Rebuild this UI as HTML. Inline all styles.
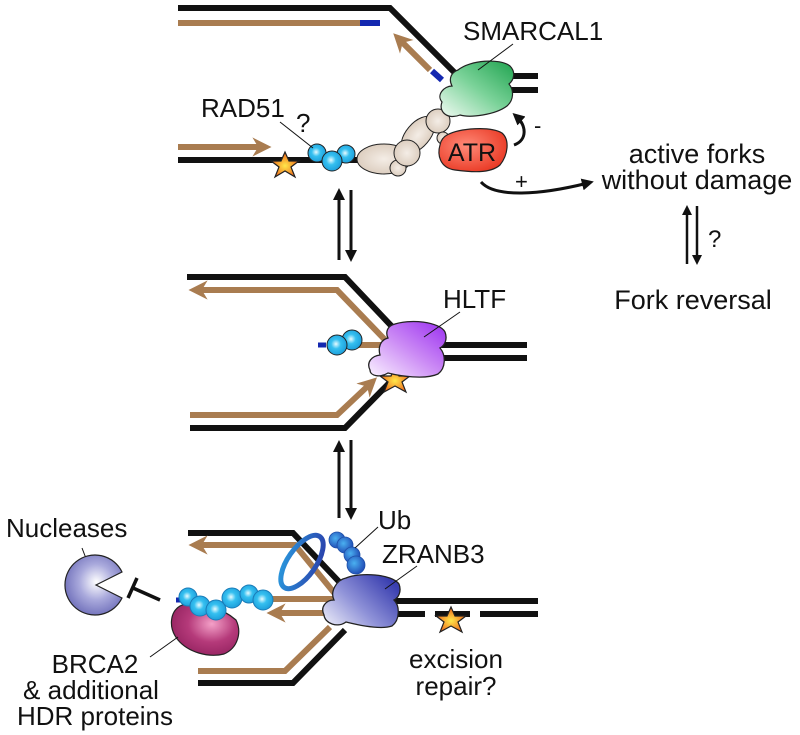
<!DOCTYPE html>
<html><head><style>html,body{margin:0;padding:0;background:#fff}svg{display:block}text{font-family:"Liberation Sans",Arial,sans-serif;fill:#111}</style></head>
<body>
<svg width="800" height="735" viewBox="0 0 800 735" xmlns="http://www.w3.org/2000/svg">
<defs>
<radialGradient id="sph" cx="0.45" cy="0.45" r="0.6"><stop offset="0" stop-color="#e8fbff"/><stop offset="0.4" stop-color="#35c0f0"/><stop offset="1" stop-color="#1a9ad8"/></radialGradient>
<radialGradient id="beige" cx="0.5" cy="0.5" r="0.6"><stop offset="0" stop-color="#f4ede6"/><stop offset="1" stop-color="#d8c8b8"/></radialGradient>
<linearGradient id="grn" x1="0" y1="1" x2="1" y2="0"><stop offset="0" stop-color="#f2fbf4"/><stop offset="0.5" stop-color="#7cd39a"/><stop offset="1" stop-color="#1fa34f"/></linearGradient>
<linearGradient id="pur" x1="0" y1="1" x2="1" y2="0"><stop offset="0" stop-color="#fbf4ff"/><stop offset="0.5" stop-color="#cc8cf5"/><stop offset="1" stop-color="#9a2ef0"/></linearGradient>
<linearGradient id="blu" x1="0" y1="1" x2="1" y2="0.3"><stop offset="0" stop-color="#f4f4fb"/><stop offset="0.5" stop-color="#8f92d8"/><stop offset="1" stop-color="#3a3fb0"/></linearGradient>
<radialGradient id="red" cx="0.4" cy="0.4" r="0.7"><stop offset="0" stop-color="#ff8a78"/><stop offset="1" stop-color="#e8341f"/></radialGradient>
<radialGradient id="mag" cx="0.6" cy="0.4" r="0.7"><stop offset="0" stop-color="#f4a0c8"/><stop offset="0.5" stop-color="#b53a7a"/><stop offset="1" stop-color="#8f1f5c"/></radialGradient>
<radialGradient id="nuc" cx="0.55" cy="0.45" r="0.6"><stop offset="0" stop-color="#ffffff"/><stop offset="0.5" stop-color="#a9a9dc"/><stop offset="1" stop-color="#6c6cb8"/></radialGradient>
<radialGradient id="star" cx="0.5" cy="0.55" r="0.5"><stop offset="0" stop-color="#ffe84a"/><stop offset="1" stop-color="#f06a1a"/></radialGradient>
<linearGradient id="ring" x1="0" y1="1" x2="1" y2="0"><stop offset="0" stop-color="#2a9ee0"/><stop offset="1" stop-color="#2a3aa8"/></linearGradient>
<radialGradient id="ub" cx="0.4" cy="0.4" r="0.6"><stop offset="0" stop-color="#4ab0f0"/><stop offset="1" stop-color="#2250b8"/></radialGradient>
<marker id="bh" viewBox="0 0 10 10" refX="5" refY="5" markerWidth="3.2" markerHeight="3.2" orient="auto"><path d="M0,0 L10,5 L0,10 L3,5z" fill="#a97c50"/></marker>
<marker id="kh" viewBox="0 0 10 10" refX="5" refY="5" markerWidth="4" markerHeight="4" orient="auto"><path d="M0,0 L10,5 L0,10 z" fill="#111"/></marker>
</defs>

<!-- ===== TOP PANEL ===== -->
<g fill="none" stroke="#111" stroke-width="6">
<polyline points="178,8 390,8 458,76 538,76"/>
<polyline points="178,160 380,160"/>
<line x1="500" y1="90" x2="538" y2="90"/>
</g>
<g fill="none" stroke="#a97c50" stroke-width="6">
<line x1="178" y1="23" x2="362" y2="23"/>
<line x1="178" y1="147" x2="262" y2="147" marker-end="url(#bh)"/>
<line x1="430" y1="70" x2="400" y2="40" marker-end="url(#bh)"/>
</g>
<line x1="360" y1="23" x2="380" y2="23" stroke="#1428b0" stroke-width="6"/>
<line x1="432" y1="71" x2="442" y2="80" stroke="#1428b0" stroke-width="6"/>
<polygon points="285,152 289,161 299,161 291,167 295,177 285,171 275,177 279,167 271,161 281,161" fill="url(#star)" stroke="#222" stroke-width="1.2"/>
<g stroke="#222" stroke-width="1"><ellipse cx="384" cy="159" rx="27" ry="15" fill="url(#beige)"/>
<ellipse cx="418" cy="135" rx="12" ry="22" transform="rotate(40 418 135)" fill="url(#beige)"/>
<circle cx="398" cy="168" r="8" fill="url(#beige)"/><circle cx="407" cy="153" r="13" fill="url(#beige)"/>
<circle cx="438" cy="121" r="12" fill="url(#beige)"/><circle cx="443" cy="138" r="6" fill="url(#beige)"/>
<circle cx="317" cy="153" r="9" fill="url(#sph)"/><circle cx="346" cy="154" r="9" fill="url(#sph)"/><circle cx="332" cy="161" r="10" fill="url(#sph)"/></g>
<path d="M458,70 C470,60 500,58 510,66 C516,72 514,80 509,84 C514,90 514,100 507,106 C495,115 470,118 460,115 C448,120 438,112 442,102 C436,95 444,86 452,86 C448,78 452,72 458,70Z" fill="url(#grn)" stroke="#222" stroke-width="1.2"/>
<path d="M447,135 C460,128 490,126 502,133 C510,140 508,155 500,165 C490,174 470,172 455,170 C440,168 437,155 440,145 C441,140 443,137 447,135Z" fill="url(#red)" stroke="#222" stroke-width="1.2"/>
<text x="472" y="161" font-size="25" text-anchor="middle">ATR</text>
<text x="463" y="40" font-size="26">SMARCAL1</text>
<line x1="513" y1="44" x2="478" y2="70" stroke="#111" stroke-width="1"/>
<text x="201" y="117" font-size="26">RAD51</text>
<text x="296" y="132" font-size="26">?</text>
<line x1="280" y1="122" x2="313" y2="148" stroke="#111" stroke-width="1"/>
<path d="M514,145 C528,140 526,125 517,117" fill="none" stroke="#111" stroke-width="3" marker-end="url(#kh)"/>
<text x="534" y="133" font-size="22">-</text>
<path d="M481,182 C495,198 540,195 588,183" fill="none" stroke="#111" stroke-width="3" marker-end="url(#kh)"/>
<text x="515" y="189" font-size="22">+</text>

<!-- right text -->
<text x="697" y="163" font-size="27" text-anchor="middle">active forks</text>
<text x="697" y="189" font-size="27" text-anchor="middle">without damage</text>
<line x1="687" y1="264" x2="687" y2="210" stroke="#111" stroke-width="2.5" marker-end="url(#kh)"/>
<line x1="697" y1="206" x2="697" y2="260" stroke="#111" stroke-width="2.5" marker-end="url(#kh)"/>
<text x="708" y="247" font-size="24">?</text>
<text x="693" y="309" font-size="27" text-anchor="middle">Fork reversal</text>

<!-- vertical double arrows -->
<line x1="339" y1="260" x2="339" y2="194" stroke="#111" stroke-width="3" marker-end="url(#kh)"/>
<line x1="351" y1="190" x2="351" y2="256" stroke="#111" stroke-width="3" marker-end="url(#kh)"/>
<line x1="339" y1="518" x2="339" y2="446" stroke="#111" stroke-width="3" marker-end="url(#kh)"/>
<line x1="351" y1="440" x2="351" y2="514" stroke="#111" stroke-width="3" marker-end="url(#kh)"/>

<!-- ===== MIDDLE PANEL ===== -->
<g fill="none" stroke="#111" stroke-width="6">
<polyline points="187,277 345,277 400,335"/>
<polyline points="190,428 345,428 400,372"/>
<line x1="440" y1="345" x2="527" y2="345"/>
<line x1="440" y1="358" x2="527" y2="358"/>
</g>
<g fill="none" stroke="#a97c50" stroke-width="6">
<polyline points="390,345 337,290 198,290" marker-end="url(#bh)"/>
<line x1="345" y1="345" x2="390" y2="345"/>
<polyline points="190,415 337,415 370,384" marker-end="url(#bh)"/>
</g>
<line x1="318" y1="345" x2="326" y2="345" stroke="#1428b0" stroke-width="5"/>
<g stroke="#222" stroke-width="1"><circle cx="352" cy="340" r="10" fill="url(#sph)"/><circle cx="337" cy="345" r="10" fill="url(#sph)"/></g>
<polygon points="395,367 399,376 410,376 402,382 406,392 395,386 384,392 388,382 380,376 391,376" fill="url(#star)" stroke="#222" stroke-width="1.2"/>
<path d="M392,325 C410,318 440,322 445,332 C448,340 444,346 440,348 C446,355 446,368 438,374 C425,380 400,376 388,373 C380,378 370,376 370,370 C366,362 372,356 380,355 C378,348 380,340 388,338 C385,332 388,327 392,325Z" fill="url(#pur)" stroke="#222" stroke-width="1.3"/>
<text x="443" y="308" font-size="26">HLTF</text>
<line x1="460" y1="312" x2="424" y2="337" stroke="#111" stroke-width="1"/>

<!-- ===== BOTTOM PANEL ===== -->
<g fill="none" stroke="#111" stroke-width="6">
<polyline points="188,533 293,533 345,588"/>
<polyline points="198,683 293,683 345,630"/>
<line x1="395" y1="601" x2="538" y2="601"/>
<line x1="395" y1="614" x2="425" y2="614"/>
<line x1="435" y1="614" x2="470" y2="614"/>
<line x1="480" y1="614" x2="538" y2="614"/>
</g>
<g fill="none" stroke="#a97c50" stroke-width="6">
<polyline points="340,600 295,545 198,545" marker-end="url(#bh)"/>
<line x1="245" y1="599" x2="340" y2="599"/>
<line x1="340" y1="613" x2="276" y2="613" marker-end="url(#bh)"/>
<polyline points="198,671 285,671 330,627"/>
</g>
<ellipse cx="302" cy="562" rx="14" ry="31" transform="rotate(35 302 562)" fill="none" stroke="url(#ring)" stroke-width="5"/>
<g stroke="#1e4fa8" stroke-width="0.8"><circle cx="337" cy="540" r="8" fill="url(#ub)"/><circle cx="345" cy="545" r="8" fill="url(#ub)"/><circle cx="352" cy="555" r="8" fill="url(#ub)"/><circle cx="356" cy="565" r="9" fill="url(#ub)"/></g>
<path d="M346,578 C360,572 392,574 399,584 C402,592 398,598 394,600 C400,606 400,620 392,626 C380,630 358,625 346,622 C338,628 325,624 324,615 C320,607 326,600 334,600 C330,592 336,580 346,578Z" fill="url(#blu)" stroke="#222" stroke-width="1.3"/>
<text x="378" y="529" font-size="26">Ub</text>
<line x1="378" y1="527" x2="355" y2="548" stroke="#111" stroke-width="1"/>
<text x="382" y="563" font-size="26">ZRANB3</text>
<line x1="417" y1="566" x2="385" y2="589" stroke="#111" stroke-width="1"/>
<polygon points="451,607 455,616 466,616 458,622 462,632 451,626 440,632 444,622 436,616 447,616" fill="url(#star)" stroke="#222" stroke-width="1.2"/>
<text x="456" y="668" font-size="26" text-anchor="middle">excision</text>
<text x="456" y="695" font-size="26" text-anchor="middle">repair?</text>

<!-- BRCA2 -->
<path d="M180,606 C195,598 222,608 236,620 C242,632 238,648 224,654 C208,658 188,652 178,640 C168,628 170,612 180,606Z" fill="url(#mag)" stroke="#222" stroke-width="1.2"/>
<line x1="176" y1="600" x2="190" y2="600" stroke="#1428b0" stroke-width="5"/>
<g stroke="#1a7cb8" stroke-width="1"><circle cx="188" cy="597" r="9" fill="url(#sph)"/><circle cx="200" cy="606" r="10" fill="url(#sph)"/><circle cx="216" cy="610" r="10" fill="url(#sph)"/><circle cx="232" cy="598" r="10" fill="url(#sph)"/><circle cx="249" cy="594" r="9" fill="url(#sph)"/><circle cx="263" cy="600" r="10" fill="url(#sph)"/></g>
<text x="6" y="537" font-size="26">Nucleases</text>
<line x1="82" y1="548" x2="92" y2="574" stroke="#111" stroke-width="1"/>
<path d="M96,585 L122,572 A30,30 0 1,0 122,598 Z" fill="url(#nuc)" stroke="#222" stroke-width="1.2"/>
<line x1="133" y1="588" x2="160" y2="600" stroke="#111" stroke-width="3.5"/>
<line x1="128" y1="598" x2="137" y2="578" stroke="#111" stroke-width="3.5"/>
<text x="95" y="673" font-size="26" text-anchor="middle">BRCA2</text>
<line x1="150" y1="657" x2="178" y2="637" stroke="#111" stroke-width="1"/>
<text x="91" y="699" font-size="26" text-anchor="middle">&amp; additional</text>
<text x="95" y="725" font-size="26" text-anchor="middle">HDR proteins</text>
</svg>
</body></html>
